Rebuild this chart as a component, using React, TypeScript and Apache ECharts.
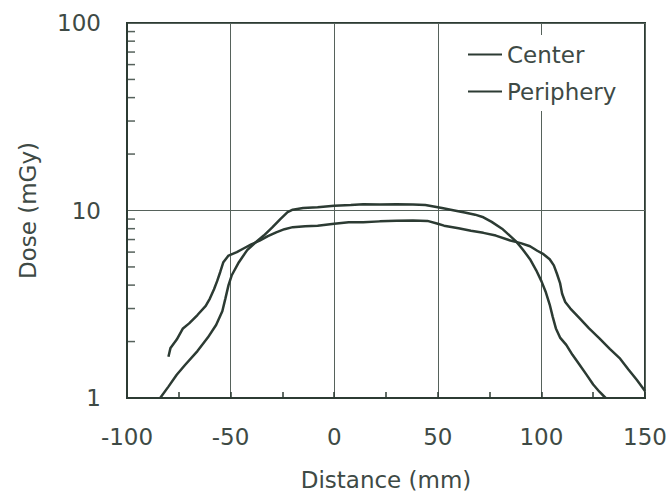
import React, { useEffect, useRef } from "react";
import * as echarts from "echarts";

const centerData: [number, number][] = [
  [-84, 1.0], [-80, 1.15], [-76, 1.33], [-72, 1.5], [-66, 1.78], [-61, 2.1], [-57, 2.45],
  [-54, 2.9], [-52.5, 3.4], [-51, 4.0], [-49.5, 4.5], [-46, 5.3], [-42, 6.15], [-38, 6.75],
  [-34, 7.35], [-30, 8.1], [-26, 9.0], [-22.5, 9.8], [-20, 10.1], [-15, 10.3], [-8, 10.4],
  [0, 10.6], [8, 10.7], [14, 10.8], [22, 10.75], [30, 10.8], [38, 10.75], [44, 10.7],
  [48, 10.5], [52, 10.3], [58, 10.0], [63, 9.75], [68, 9.5], [72, 9.2], [76, 8.7], [81, 8.0],
  [85, 7.3], [88, 6.8], [91, 6.2], [94.5, 5.5], [97.5, 4.8], [100, 4.2], [102, 3.7],
  [104, 3.15], [105.5, 2.7], [107, 2.35], [109, 2.1], [112, 1.92], [115, 1.7], [118.5, 1.5],
  [122, 1.32], [125, 1.18], [128, 1.08], [131, 1.0],
];

const peripheryData: [number, number][] = [
  [-80, 1.66], [-79, 1.85], [-76, 2.05], [-73, 2.35], [-70, 2.5], [-66, 2.77], [-62, 3.1],
  [-60, 3.39], [-58, 3.8], [-56.5, 4.2], [-55, 4.7], [-53.5, 5.3], [-51, 5.75], [-47, 6.0],
  [-44, 6.25], [-40, 6.6], [-36, 6.9], [-32, 7.3], [-28, 7.65], [-24, 7.95], [-20, 8.15],
  [-14, 8.25], [-8, 8.3], [0, 8.5], [7, 8.65], [14, 8.66], [22, 8.75], [30, 8.83], [38, 8.85],
  [45, 8.8], [50, 8.5], [53, 8.3], [60, 8.05], [66, 7.8], [72, 7.6], [78, 7.35], [85, 6.92],
  [90, 6.7], [94.5, 6.45], [98, 6.1], [101, 5.85], [104, 5.5], [106, 5.1], [107.5, 4.6],
  [109, 4.1], [110, 3.6], [111.5, 3.25], [114, 3.0], [118.5, 2.66], [123, 2.35], [128, 2.08],
  [133, 1.83], [138, 1.62], [142, 1.42], [146, 1.25], [150, 1.09],
];

const yMinorTickValues: number[] = [2, 3, 4, 5, 6, 7, 8, 9, 20, 30, 40, 50, 60, 70, 80, 90];

const X_MIN = -100;
const X_MAX = 150;
const X_STEP = 50;

const LINE = "#2c3b33";
const GRID = "#56625b";
const TEXT = "#3e4a45";
const FONT = "DejaVu Sans";

export default function App() {
  const ref = useRef<HTMLDivElement>(null);
  useEffect(() => {
    if (!ref.current) return;
    const chart = echarts.init(ref.current, null, { renderer: "svg" });
    chart.setOption({
      animation: false,
      backgroundColor: "#ffffff",
      grid: {
        left: 127,
        right: 27,
        top: 23,
        bottom: 96,
        show: true,
        borderColor: LINE,
        borderWidth: 2,
        backgroundColor: "transparent",
      },
      legend: {
        data: ["Center", "Periphery"],
        orient: "vertical",
        left: 460,
        top: 35,
        padding: [8, 6, 8, 8],
        backgroundColor: "#ffffff",
        icon: "rect",
        itemWidth: 34,
        itemHeight: 2,
        itemGap: 14,
        textStyle: { fontFamily: FONT, fontSize: 23, color: TEXT },
      },
      xAxis: {
        type: "value",
        min: X_MIN,
        max: X_MAX,
        interval: X_STEP,
        name: "Distance (mm)",
        nameLocation: "middle",
        nameGap: 70,
        nameTextStyle: { fontFamily: FONT, fontSize: 23, color: TEXT },
        axisLine: { onZero: false, lineStyle: { color: LINE, width: 2 } },
        axisTick: { inside: true, length: 6, lineStyle: { color: LINE, width: 1.5 } },
        minorTick: { show: true, splitNumber: 2, length: 6, lineStyle: { color: LINE, width: 1.5 } },
        splitLine: { show: true, lineStyle: { color: GRID, width: 1 } },
        axisLabel: { fontFamily: FONT, fontSize: 23, color: TEXT, margin: 27 },
      },
      yAxis: {
        type: "log",
        logBase: 10,
        min: 1,
        max: 100,
        name: "Dose (mGy)",
        nameLocation: "middle",
        nameGap: 88,
        nameTextStyle: { fontFamily: FONT, fontSize: 23, color: TEXT },
        axisLine: { onZero: false, lineStyle: { color: LINE, width: 2 } },
        axisTick: { show: false },
        splitLine: { show: true, lineStyle: { color: GRID, width: 1 } },
        axisLabel: { fontFamily: FONT, fontSize: 23, color: TEXT, margin: 26 },
      },
      series: [
        {
          name: "Center",
          type: "line",
          data: centerData,
          showSymbol: false,
          symbol: "none",
          lineStyle: { color: LINE, width: 2.5 },
          itemStyle: { color: LINE },
        },
        {
          name: "Periphery",
          type: "line",
          data: peripheryData,
          showSymbol: false,
          symbol: "none",
          lineStyle: { color: LINE, width: 2.5 },
          itemStyle: { color: LINE },
        },
        {
          name: "yMinorTicks",
          type: "scatter",
          data: yMinorTickValues.map((v) => [X_MIN, v]),
          symbol: "rect",
          symbolSize: [8, 1.5],
          symbolOffset: [4, 0],
          itemStyle: { color: LINE },
          silent: true,
          z: 3,
        },
      ],
    });
    return () => chart.dispose();
  }, []);
  return <div ref={ref} style={{ width: 672, height: 496, position: "absolute", left: 0, top: 0 }} />;
}
